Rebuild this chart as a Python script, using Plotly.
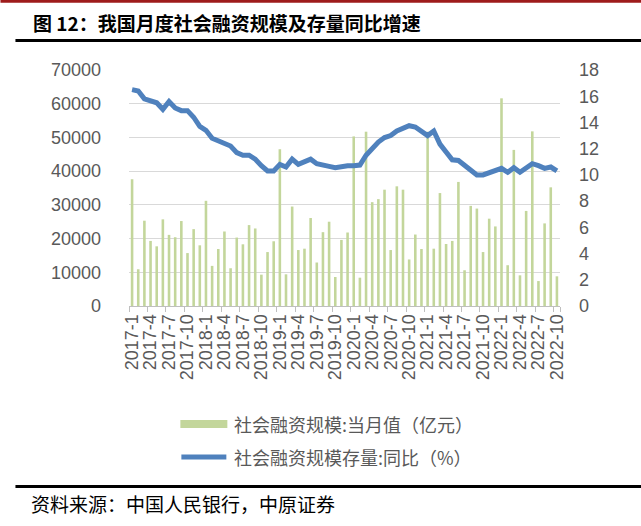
import plotly.graph_objects as go

months = [f"{y}-{m}" for y in range(2017, 2023) for m in range(1, 13)][:70]

tsf_monthly = [
    37600, 10900, 25300, 19300, 17700, 25700, 21100, 20400, 25200, 15700, 22800, 18000,
    31200, 11900, 16900, 22100, 11200, 20300, 18300, 24000, 23000, 9300, 16000, 19200,
    46500, 9400, 29500, 16600, 17000, 26100, 12900, 21900, 25000, 8600, 19600, 21800,
    50300, 8400, 51700, 30800, 31700, 34500, 16600, 35500, 34500, 13800, 21200, 16900,
    51700, 17000, 33500, 18400, 19300, 36800, 10600, 29700, 28900, 16000, 25900, 23600,
    61600, 12100, 46300, 9100, 28200, 51800, 7400, 24500, 35200, 8800,
]

tsf_stock_yoy = [
    16.5, 16.4, 15.8, 15.6, 15.5, 15.0, 15.6, 15.1, 14.9, 14.9, 14.4, 13.7,
    13.4, 12.8, 12.6, 12.4, 12.2, 11.7, 11.5, 11.5, 11.2, 10.7, 10.3, 10.3,
    10.8, 10.6, 11.2, 10.8, 11.0, 11.2, 10.85, 10.7, 10.65, 10.55, 10.65, 10.7,
    10.7, 10.75, 11.5, 12.05, 12.5, 12.85, 13.0, 13.35, 13.5, 13.75, 13.65, 13.35,
    13.0, 13.35, 12.35, 11.75, 11.15, 11.1, 10.7, 10.3, 10.0, 10.0, 10.15, 10.4,
    10.5, 10.2, 10.55, 10.2, 10.5, 10.85, 10.7, 10.5, 10.6, 10.3,
]

tick_labels = months[::3]

title_text = "图 12：我国月度社会融资规模及存量同比增速"
legend_bar = "社会融资规模:当月值（亿元）"
legend_line = "社会融资规模存量:同比（%）"
source_text = "资料来源：中国人民银行，中原证券"

W, H = 641, 526
L, R, T, B = 128.6, 641 - 559.8, 70, 526 - 306
PW, PH = W - L - R, H - T - B


def px(x):
    return (x - L) / PW


def py(y):
    return (H - B - y) / PH


GRAY = "#595959"
CJK = "Noto Sans CJK SC"
NUM = "Liberation Sans"

fig = go.Figure()
fig.add_trace(go.Bar(
    x=months, y=tsf_monthly, name=legend_bar, width=0.42,
    marker=dict(color="#c3d69b", line=dict(width=0)), showlegend=False,
))
fig.add_trace(go.Scatter(
    x=months, y=tsf_stock_yoy, name=legend_line, yaxis="y2", mode="lines",
    line=dict(color="#4f81bd", width=5), showlegend=False,
))

fig.update_layout(
    width=W, height=H, autosize=False,
    margin=dict(l=L, r=R, t=T, b=B, pad=0),
    paper_bgcolor="white", plot_bgcolor="white",
    bargap=0.58,
    xaxis=dict(
        type="category", categoryorder="array", categoryarray=months,
        tickmode="array", tickvals=tick_labels, ticktext=tick_labels,
        tickangle=-90, tickson="boundaries", ticks="outside", ticklen=5,
        tickcolor="#bfbfbf", showline=True, linecolor="#bfbfbf", linewidth=1,
        showgrid=False, tickfont=dict(family=NUM, size=18, color=GRAY),
        range=[-0.5, 69.5],
    ),
    yaxis=dict(
        range=[0, 70000], dtick=10000, tickmode="linear", tick0=0, tickformat="d",
        gridcolor="#d9d9d9", gridwidth=1, zeroline=False, showline=False,
        tickfont=dict(family=NUM, size=18, color=GRAY), ticks="",
        ticklabelstandoff=27,
    ),
    yaxis2=dict(
        range=[0, 18], dtick=2, tickmode="linear", tick0=0,
        overlaying="y", side="right", showgrid=False, zeroline=False,
        showline=False, tickfont=dict(family=NUM, size=18, color=GRAY),
        ticks="", ticklabelstandoff=18,
    ),
    font=dict(family=CJK, color=GRAY),
)

shapes = [
    dict(type="line", xref="paper", yref="paper", x0=px(0), x1=px(641), y0=py(1.3), y1=py(1.3),
         line=dict(color="#9e1b1b", width=3)),
    dict(type="line", xref="paper", yref="paper", x0=px(15), x1=px(641), y0=py(40.5), y1=py(40.5),
         line=dict(color="black", width=3)),
    dict(type="line", xref="paper", yref="paper", x0=px(15), x1=px(641), y0=py(486.5), y1=py(486.5),
         line=dict(color="black", width=3)),
    dict(type="line", xref="paper", yref="paper", x0=px(180), x1=px(227), y0=py(424), y1=py(424),
         line=dict(color="#c3d69b", width=8)),
    dict(type="line", xref="paper", yref="paper", x0=px(181), x1=px(226), y0=py(457), y1=py(457),
         line=dict(color="#4f81bd", width=5)),
]
fig.update_layout(shapes=shapes)

annotations = [
    dict(text=f"<b>{title_text}</b>", xref="paper", yref="paper", x=px(31), y=py(22),
         xanchor="left", yanchor="middle", showarrow=False,
         font=dict(family=CJK, size=19, color="black")),
    dict(text=legend_bar, xref="paper", yref="paper", x=px(232), y=py(424),
         xanchor="left", yanchor="middle", showarrow=False,
         font=dict(family=CJK, size=18, color=GRAY)),
    dict(text=legend_line, xref="paper", yref="paper", x=px(232), y=py(457),
         xanchor="left", yanchor="middle", showarrow=False,
         font=dict(family=CJK, size=18, color=GRAY)),
    dict(text=source_text, xref="paper", yref="paper", x=px(29), y=py(503),
         xanchor="left", yanchor="middle", showarrow=False,
         font=dict(family=CJK, size=19, color="black")),
]
fig.update_layout(annotations=annotations)

fig.write_html("out.html")
